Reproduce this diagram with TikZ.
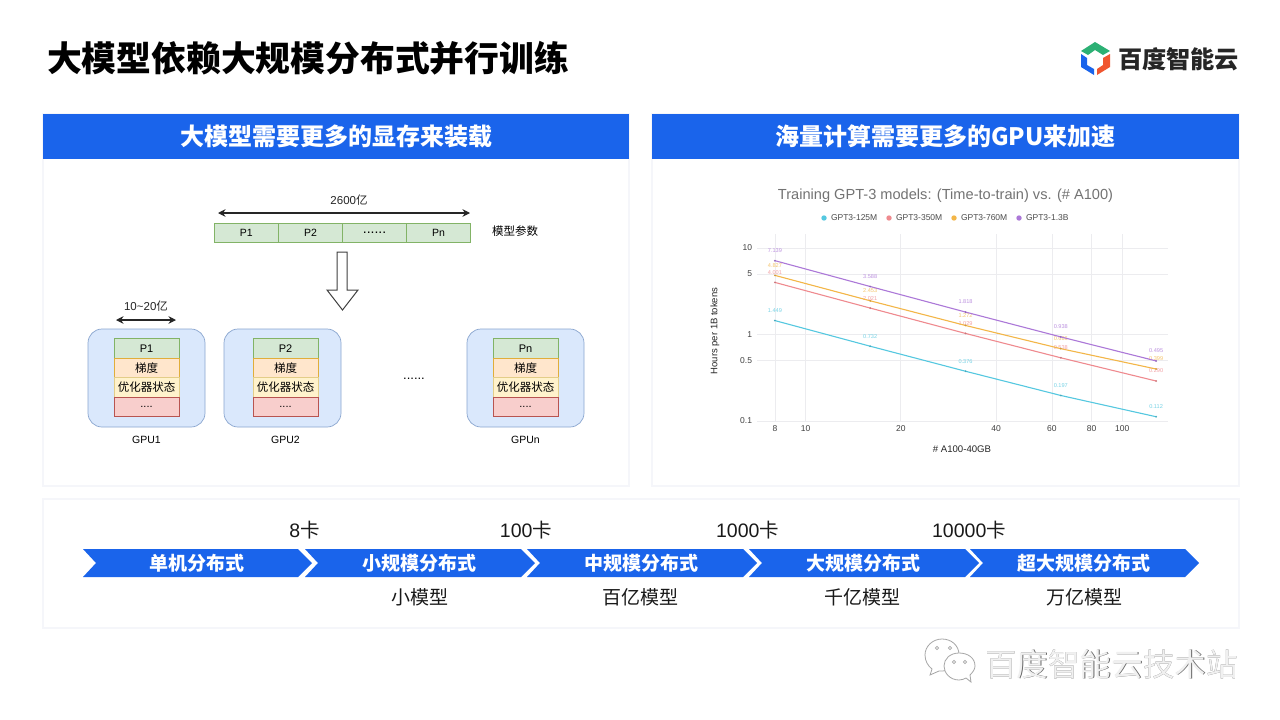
\documentclass[tikz,border=0pt]{standalone}
\usepackage{fontspec}
\usepackage{xcolor}
\usetikzlibrary{arrows.meta, positioning, calc, shapes.geometric}
\setmainfont{Noto Sans CJK SC}
\newfontfamily\lat{Liberation Sans}
\newcommand{\fsz}[1]{\fontsize{#1}{#1}\selectfont}
\definecolor{brand}{HTML}{1A64EB}
\definecolor{panelline}{HTML}{F5F6FA}
\definecolor{grid}{HTML}{ECECEF}
\definecolor{s125}{HTML}{55C8E0}
\definecolor{s350}{HTML}{EF8A8F}
\definecolor{s760}{HTML}{F3B648}
\definecolor{s13b}{HTML}{AC78D8}
\definecolor{gpuline}{HTML}{8AA6CF}
\definecolor{gpufill}{HTML}{DAE8FC}
\definecolor{parline}{HTML}{82B366}
\definecolor{parfill}{HTML}{D5E8D4}
\definecolor{gradline}{HTML}{E0AE3A}
\definecolor{gradfill}{HTML}{FFE6CC}
\definecolor{optline}{HTML}{E3CD88}
\definecolor{optfill}{HTML}{FFF2CC}
\definecolor{etcline}{HTML}{B85450}
\definecolor{etcfill}{HTML}{F8CECC}
\definecolor{logogreen}{HTML}{2CB074}
\definecolor{logored}{HTML}{F0552F}

\begin{document}
\begin{tikzpicture}[
  x=1pt, y=-1pt,
  node distance=0pt,
  every node/.style={inner sep=0pt, outer sep=0pt},
  panel/.style={rectangle, draw=panelline, line width=1.5pt, fill=white, anchor=north west},
  header/.style={rectangle, fill=brand, text=white, font=\fsz{24}\bfseries, anchor=north west,
                 minimum height=45pt},
  cell/.style={rectangle, minimum width=65pt, minimum height=19.5pt, line width=0.7pt,
               font=\fsz{11.5}},
  barcell/.style={cell, draw=parline, fill=parfill, minimum width=64.1pt, font=\lat\fsz{10.5}},
  gpubox/.style={rectangle, rounded corners=14pt, draw=gpuline, fill=gpufill, line width=0.7pt,
                 minimum width=117pt, minimum height=98pt},
  dim/.style={{Stealth[length=7.5pt,width=7.5pt]}-{Stealth[length=7.5pt,width=7.5pt]}, line width=1.1pt, black!85},
  stagelab/.style={font=\fsz{19}\color{black!90}},
  cardlab/.style={font=\fsz{19.5}\color{black!90}},
  chevtext/.style={font=\fsz{19}\bfseries, text=white},
  ticklab/.style={font=\lat\fsz{8.5}, text=black!75},
  legendlab/.style={font=\lat\fsz{8.5}, text=black!70, anchor=west},
  vallab/.style={font=\lat\fsz{5.6}},
  declare function={chartx(\v)=805.6+95.3*log2(\v/10); charty(\v)=334.5-86.5*log10(\v);},
]
\useasboundingbox (0,0) rectangle (1280,720);
\fill[white] (0,0) rectangle (1280,720);

% title and logo
\node[anchor=west, font=\fsz{34.8}\bfseries] (title) at (47,58) {大模型依赖大规模分布式并行训练};
\fill[logogreen] (1081,51) -- (1095,42) -- (1110,51) -- (1103,55) -- (1095,50) -- (1088,55) -- cycle;
\fill[brand] (1081,54) -- (1087,58) -- (1087,65) -- (1094,69) -- (1094,75) -- (1081,67) -- cycle;
\fill[logored] (1110,54) -- (1110,67) -- (1097,75) -- (1097,69) -- (1103,65) -- (1103,58) -- cycle;
\node[anchor=west, font=\fsz{24.2}\bfseries, text=black!85] (logotext) at (1118,59) {百度智能云};

% panels
\node[panel, minimum width=586pt, minimum height=372pt] (leftpanel) at (43,114) {};
\node[panel, minimum width=587pt, minimum height=372pt] (rightpanel) at (652,114) {};
\node[panel, minimum width=1196pt, minimum height=129pt] (bottompanel) at (43,499) {};
\node[header, minimum width=586pt] (lefthead) at (43,114) {大模型需要更多的显存来装载};
\node[header, minimum width=587pt] (righthead) at (652,114) {海量计算需要更多的GPU来加速};

% parameter bar
\node[barcell, anchor=north west] (bar1) at (214.3,223) {P1};
\node[barcell, right=of bar1] (bar2) {P2};
\node[barcell, font=\lat\fsz{14}, right=of bar2] (bar3) {......};
\node[barcell, right=of bar3] (bar4) {Pn};
\node[font=\fsz{11.5}, anchor=west] (barname) at (492,231.5) {模型参数};
\coordinate (spanl) at (218,213);
\coordinate (spanr) at (470,213);
\draw[dim] (spanl) -- node[above=8pt, xshift=5pt, font=\fsz{11.5}] (spanlab) {{\lat 2600}亿} (spanr);
\draw[black!75, line width=1pt, fill=white] (337,252) -- (347,252) -- (347,290) -- (358,290)
  -- (342.5,310) -- (327,290) -- (337,290) -- cycle;

% gpu blocks
\coordinate (gpul) at (116,320);
\coordinate (gpur) at (176,320);
\draw[dim] (gpul) -- node[above=9pt, font=\fsz{11.5}] (gpulab) {{\lat 10\textasciitilde 20}亿} (gpur);
\foreach \id/\bx/\ix/\pname/\gname in {a/146.5/146.5/P1/GPU1, b/282.5/285.5/P2/GPU2, c/525.5/525.5/Pn/GPUn} {
  \node[gpubox] (gpu\id) at (\bx,378) {};
  \node[cell, draw=parline, fill=parfill, font=\lat\fsz{11}] (par\id) at (\ix,348.5) {\pname};
  \node[cell, draw=gradline, fill=gradfill, below=of par\id] (grad\id) {梯度};
  \node[cell, draw=optline, fill=optfill, below=of grad\id] (opt\id) {优化器状态};
  \node[cell, draw=etcline, fill=etcfill, font=\lat\fsz{11}, below=of opt\id] (etc\id) {....};
  \node[font=\lat\fsz{10.5}] (name\id) at (\ix,440) {\gname};
}
\node[font=\lat\fsz{13}] (gpudots) at (414,379) {......};

% chart
\node[font=\lat\fsz{14.6}, text=black!55] (charttitle) at (945.5,196) {Training GPT-3 models: (Time-to-train) vs. (\# A100)};
\foreach \col/\dx/\lab in {s125/824/GPT3-125M, s350/889/GPT3-350M, s760/954/GPT3-760M, s13b/1019/GPT3-1.3B} {
  \fill[\col] (\dx,218) circle (2.7);
  \node[legendlab] (leg\col) at (\dx+7,218) {\lab};
}
\foreach \v in {10,5,1,0.5,0.1} {
  \draw[grid, line width=0.8pt] (757,{charty(\v)}) -- (1168,{charty(\v)});
  \node[ticklab, anchor=east] (ytick\v) at (752,{charty(\v)}) {\v};
}
\foreach \v in {8,10,20,40,60,80,100} {
  \draw[grid, line width=0.8pt] ({chartx(\v)},234) -- ({chartx(\v)},421);
  \node[ticklab] (xtick\v) at ({chartx(\v)},428.5) {\v};
}
\foreach \col/\va/\vb/\vc/\vd/\ve in {s125/1.449/0.732/0.376/0.197/0.112, s350/4.001/2.021/1.029/0.538/0.290,
                                 s760/4.827/2.453/1.272/0.686/0.399, s13b/7.139/3.588/1.818/0.938/0.495} {
  \draw[\col, line width=1.1pt] ({chartx(8)},{charty(\va)}) -- ({chartx(16)},{charty(\vb)})
    -- ({chartx(32)},{charty(\vc)}) -- ({chartx(64)},{charty(\vd)}) -- ({chartx(128)},{charty(\ve)});
  \foreach \n/\val in {8/\va,16/\vb,32/\vc,64/\vd,128/\ve} {
    \fill[\col!85!black] ({chartx(\n)},{charty(\val)}) circle (1);
    \node[vallab, text=\col!80!white] (val\col\n) at ({chartx(\n)},{charty(\val)-10}) {\val};
  }
}
\node[font=\lat\fsz{9.5}, rotate=90, text=black!85] (ylab) at (715,331) {Hours per 1B tokens};
\node[font=\lat\fsz{9.6}, text=black!85] (xlab) at (962,449) {\# A100-40GB};

% chevrons
\foreach \id/\lx/\w/\lab in {1/83/215/单机分布式, 2/305/216/小规模分布式, 3/527/216/中规模分布式,
                             4/749/216/大规模分布式, 5/970/215/超大规模分布式} {
  \fill[brand] (\lx,549) -- (\lx+\w,549) -- (\lx+\w+14,563) -- (\lx+\w,577) -- (\lx,577) -- (\lx+13,563) -- cycle;
  \node[chevtext] (chev\id) at (\lx+114,563.5) {\lab};
}
\node[cardlab] (card8) at (304.5,530) {{\lat 8}卡};
\node[cardlab] (card100) at (526,530) {{\lat 100}卡};
\node[cardlab] (card1k) at (747.5,530) {{\lat 1000}卡};
\node[cardlab] (card10k) at (969,530) {{\lat 10000}卡};
\node[stagelab] (small) at (419.5,597) {小模型};
\node[stagelab] (mid) at (640.5,597) {百亿模型};
\node[stagelab] (large) at (862,597) {千亿模型};
\node[stagelab] (huge) at (1084,597) {万亿模型};

% watermark
\node[anchor=west, font=\fsz{31.6}, text=black!60] (markshadow) at (985.6,664.6) {百度智能云技术站};
\node[anchor=west, font=\fsz{31.6}, text=white!94!black] (mark) at (985,664) {百度智能云技术站};
\draw[black!35, fill=white, line width=0.8pt] (932,669) -- (930,675) -- (939,671) .. controls (950,672) and (959,664) .. (959,655)
  .. controls (959,645) and (951,639) .. (942,639) .. controls (933,639) and (925,646) .. (925,655)
  .. controls (925,661) and (928,666) .. cycle;
\draw[black!35, fill=white, line width=0.8pt] (966,678) -- (971,682) -- (970,675) .. controls (973,672) and (975,669) .. (975,666)
  .. controls (975,658) and (968,653) .. (959,653) .. controls (950,653) and (944,659) .. (944,666)
  .. controls (944,673) and (950,680) .. (959,680) .. controls (962,680) and (964,679) .. cycle;
\foreach \ex/\ey in {937/648, 950/648, 954/662, 965/662} {
  \draw[black!35, fill=white, line width=0.6pt] (\ex,\ey) circle (1.6);
}
\end{tikzpicture}
\end{document}
